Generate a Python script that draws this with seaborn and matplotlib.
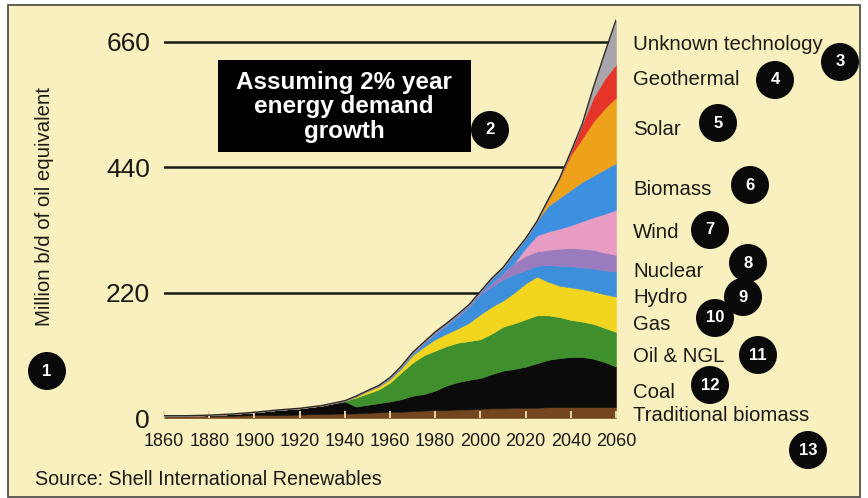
import matplotlib
matplotlib.use("Agg")
import matplotlib.pyplot as plt
from matplotlib.patches import Rectangle, Ellipse
import numpy as np
import seaborn as sns

# ---- data: million b/d of oil equivalent, by source ----
years = [1860, 1870, 1880, 1890, 1900, 1910, 1920, 1930, 1940, 1945, 1950,
         1955, 1960, 1965, 1970, 1975, 1980, 1985, 1990, 1995, 2000, 2005,
         2010, 2015, 2020, 2025, 2030, 2035, 2040, 2045, 2050, 2055, 2060]

traditional_biomass = [3, 3, 4, 4, 5, 5, 6, 7, 8, 8, 9, 10, 11, 11, 12, 13, 14,
                       14, 15, 15, 16, 17, 17, 18, 18, 18, 19, 19, 19, 19, 19, 19, 19]
coal = [1, 1, 1, 3, 5, 9, 11, 15, 21, 12, 14, 16, 18, 22, 27, 29, 34, 43, 48,
        52, 54, 60, 66, 68, 72, 78, 83, 86, 88, 88, 85, 79, 71]
oil_ngl = [0, 0, 0, 0, 0, 0, 0, 0, 1, 16, 20, 24, 33, 47, 58, 68, 70, 69, 69,
           68, 68, 71, 77, 80, 83, 84, 78, 72, 65, 62, 61, 60, 61]
gas = [0, 0, 0, 0, 0, 0, 0, 0, 0, 2, 4, 5, 6, 7, 13, 15, 20, 22, 25, 32, 44,
       47, 46, 54, 63, 68, 59, 55, 57, 57, 57, 59, 62]
hydro = [0, 0, 0, 0, 0, 0, 0, 0, 0.3, 0.3, 0.7, 1.5, 2.2, 3, 3.5, 6, 10, 14.5,
         20.5, 27.5, 35, 35, 37, 32, 23, 19, 29, 35, 37, 38, 40, 42, 44]
nuclear = [0, 0, 0, 0, 0, 0, 0, 0, 0, 0, 0, 0, 0, 0, 0.3, 0.5, 1, 1, 1.5, 1.5,
           2, 6, 11, 20, 25, 25, 27, 30, 32, 33, 33, 31, 29]
wind = [0, 0, 0, 0, 0, 0, 0, 0, 0, 0, 0, 0, 0, 0, 0, 0, 0, 0, 0, 0, 0, 0, 0, 0,
        14, 28, 32, 35, 40, 48, 57, 68, 79]
biomass = [0, 0, 0, 0, 0, 0, 0, 0, 0, 0.2, 0.3, 0.5, 0.8, 1, 1.2, 1.5, 2, 2.5,
           3, 3, 3, 9, 10, 18, 17, 25, 45, 54, 62, 69, 73, 78, 82]
solar = [0, 0, 0, 0, 0, 0, 0, 0, 0, 0, 0, 0, 0, 0, 0, 0, 0, 0, 0, 0, 0, 0, 0, 0,
         0, 0, 11, 34, 61, 76, 95, 107, 115]
geothermal = [0, 0, 0, 0, 0, 0, 0, 0, 0, 0, 0, 0, 0, 0, 0, 0, 0, 0, 0, 0, 0, 0,
              0, 0, 0, 0, 0, 0, 6, 25, 42, 52, 58]
unknown_technology = [0, 0, 0, 0, 0, 0, 0, 0, 0, 0, 0, 0, 0, 0, 0, 0, 0, 0, 0,
                      0, 0, 0, 0, 0, 0, 0, 0, 0, 0, 0, 18, 45, 78]

source_names = ["Traditional biomass", "Coal", "Oil & NGL", "Gas", "Hydro",
                "Nuclear", "Wind", "Biomass", "Solar", "Geothermal",
                "Unknown technology"]
source_colors = ["#74461f", "#0b0b0b", "#3f8f2e", "#f1d51f", "#3d8fdc",
                 "#9a7bbd", "#e89cc3", "#3d8fe0", "#eea21c", "#e5352b",
                 "#a7a5aa"]
y_ticks = [0, 220, 440, 660]
x_ticks = list(range(1860, 2061, 20))

layers = [traditional_biomass, coal, oil_ngl, gas, hydro, nuclear, wind,
          biomass, solar, geothermal, unknown_technology]
totals = np.sum(np.array(layers, dtype=float), axis=0)

# ---- styling ----
sns.set_theme(style="white")
plt.rcParams["font.family"] = ["Liberation Sans", "DejaVu Sans"]

W, H = 868, 498
BG = "#f8f1bf"
INK = "#1c1a14"


def fx(px):
    return px / W


def fy(py):
    return 1 - py / H


fig = plt.figure(figsize=(W / 100, H / 100), dpi=100)
fig.patch.set_facecolor("white")

# page panel with thin border
fig.add_artist(Rectangle((fx(8), fy(497)), (860 - 8) / W, (497 - 5) / H,
                         transform=fig.transFigure, facecolor=BG,
                         edgecolor="#55524a", linewidth=1.3, zorder=0))

ax = fig.add_axes([fx(164), fy(418), (616 - 164) / W, (418 - 16) / H])
ax.set_facecolor("none")
for s in ax.spines.values():
    s.set_visible(False)

# reference lines behind the areas
for v in y_ticks[1:]:
    ax.axhline(v, color=INK, linewidth=1.8, zorder=1)

polys = ax.stackplot(years, *layers, colors=source_colors, zorder=2)
for p, c in zip(polys, source_colors):
    p.set_edgecolor(c)
    p.set_linewidth(0.4)

sns.lineplot(x=years, y=totals, color="#2b2a26", linewidth=1.0, ax=ax,
             zorder=3, legend=False)

ax.set_xlim(1860, 2060)
ax.set_ylim(0, 705)
ax.set_axisbelow(False)

ax.set_xticks(x_ticks)
ax.set_xticklabels([str(t) for t in x_ticks], fontsize=13, color=INK)
ax.tick_params(axis="x", direction="in", length=5, width=1.4,
               color="#e6d7a2", pad=11, bottom=True)
ax.set_yticks(y_ticks)
ax.set_yticklabels([str(t) for t in y_ticks], fontsize=19, color=INK)
ax.tick_params(axis="y", length=0, pad=10, left=False)
ax.set_xlabel("")
ax.set_ylabel("")

# axis title
fig.text(fx(45), fy(206), "Million b/d of oil equivalent", rotation=90,
         ha="center", va="center", fontsize=14.7, color=INK)

# source labels on the right (baselines in pixels, bottom layer first)
label_baselines = [421, 398, 362, 330, 303, 277, 238, 195, 135, 85, 50]
for name, base in zip(source_names, label_baselines):
    fig.text(fx(633), fy(base), name, ha="left", va="baseline",
             fontsize=14.7, color=INK)

# growth assumption box
fig.add_artist(Rectangle((fx(218), fy(152)), (471 - 218) / W, (152 - 60) / H,
                         transform=fig.transFigure, facecolor="black",
                         edgecolor="none", zorder=5))
fig.text(fx(344), fy(107), "Assuming 2% year\nenergy demand\ngrowth",
         ha="center", va="center", color="white", fontsize=17.5,
         fontweight="bold", linespacing=1.08, zorder=6)

# source note
fig.text(fx(35), fy(485), "Source: Shell International Renewables",
         ha="left", va="baseline", fontsize=14.2, color=INK)

# numbered badges
badges = [(1, 47, 371), (2, 490, 130), (3, 840, 62), (4, 775, 80),
          (5, 718, 123), (6, 750, 185), (7, 710, 230), (8, 748, 263),
          (9, 743, 297), (10, 715, 318), (11, 758, 355), (12, 710, 385),
          (13, 808, 450)]
r = 19
for i, (num, cx, cy) in enumerate(badges):
    z = 7 + i * 0.01
    fig.add_artist(Ellipse((fx(cx), fy(cy)), 2 * r / W, 2 * r / H,
                           transform=fig.transFigure, facecolor="#0a0a0a",
                           edgecolor="none", zorder=z))
    fig.text(fx(cx), fy(cy), str(num), ha="center", va="center",
             color="white", fontsize=12, fontweight="bold", zorder=z + 0.005)

fig.savefig("out.png", dpi=100, facecolor=fig.get_facecolor())
